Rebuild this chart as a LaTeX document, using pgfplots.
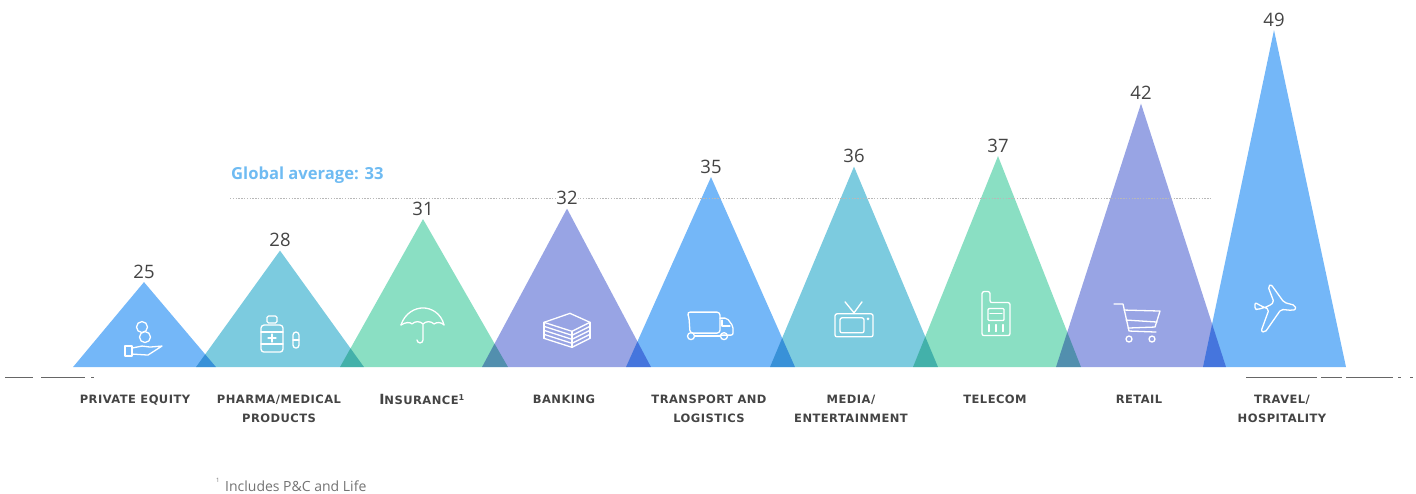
\documentclass[border=0pt]{standalone}
\usepackage{pgfplots}
\pgfplotsset{compat=1.18}
\usepackage{fontspec}
\setmainfont{Open Sans}
\newfontfamily\catfont[LetterSpace=4]{DejaVu Sans}
\definecolor{triblue}{HTML}{74B7F8}
\definecolor{triteal}{HTML}{7CCBDF}
\definecolor{trigreen}{HTML}{8ADFC3}
\definecolor{triviolet}{HTML}{98A4E4}
\definecolor{avgblue}{HTML}{6FBBF2}
\definecolor{ink}{HTML}{444444}
\tikzset{icon/.style={white,line width=1.3pt,line join=round,line cap=round,x=1pt,y=1pt}}
\begin{document}
\begin{tikzpicture}
\begin{axis}[
  scale only axis, width=1416pt, height=493pt,
  xmin=0, xmax=1416, ymin=4.905, ymax=51.857,
  axis line style={draw=none}, major tick length=0pt,
  ytick=\empty,
  xtick={135,279,422,564,709,851,995,1139,1282},
  xticklabels={{PRIVATE EQUITY},{PHARMA/MEDICAL\\PRODUCTS},{{\fontsize{14}{14}\selectfont I}NSURANCE\textsuperscript{1}},{BANKING},{TRANSPORT AND\\LOGISTICS},{MEDIA/\\ENTERTAINMENT},{TELECOM},{RETAIL},{TRAVEL/\\HOSPITALITY}},
  xticklabel style={anchor=north, yshift=102pt, align=center, text=ink,
    font=\catfont\bfseries\fontsize{11.5}{19.5}\selectfont},
  clip=false,
]
% Triangles: left foot, apex at the stated value, right foot
\addplot[fill=triblue,  draw=none, blend mode=multiply] coordinates {(73,16.905)(144,25)(216,16.905)} -- cycle;
\addplot[fill=triteal,  draw=none, blend mode=multiply] coordinates {(196,16.905)(280,28)(364,16.905)} -- cycle;
\addplot[fill=trigreen, draw=none, blend mode=multiply] coordinates {(340,16.905)(423,31)(508,16.905)} -- cycle;
\addplot[fill=triviolet,draw=none, blend mode=multiply] coordinates {(482,16.905)(567,32)(651,16.905)} -- cycle;
\addplot[fill=triblue,  draw=none, blend mode=multiply] coordinates {(626,16.905)(711,35)(795,16.905)} -- cycle;
\addplot[fill=triteal,  draw=none, blend mode=multiply] coordinates {(770,16.905)(854,36)(938,16.905)} -- cycle;
\addplot[fill=trigreen, draw=none, blend mode=multiply] coordinates {(913,16.905)(998,37)(1081,16.905)} -- cycle;
\addplot[fill=triviolet,draw=none, blend mode=multiply] coordinates {(1056,16.905)(1141,42)(1226,16.905)} -- cycle;
\addplot[fill=triblue,  draw=none, blend mode=multiply] coordinates {(1203,16.905)(1274,49)(1346,16.905)} -- cycle;

% Global average
\addplot[draw=black!28, line width=1pt, dash pattern=on 1.4pt off 1.4pt] coordinates {(230,33)(1212,33)};
\node[anchor=south west, inner sep=0pt, text=avgblue, font=\bfseries\fontsize{16.6}{18}\selectfont, yshift=14pt] at (axis cs:231,33) {Global average: 33};

% Value labels above the apexes
\addplot[draw=none, mark=none, point meta=y,
  nodes near coords={\pgfmathprintnumber[assume math mode=true]{\pgfplotspointmeta}},
  every node near coord/.style={anchor=south, text=ink, fill=white, inner sep=0.5pt,
    yshift=3pt, font=\fontsize{18.5}{19}\selectfont}]
  coordinates {(144,25)(280,28)(423,31)(567,32)(711,35)(854,36)(998,37)(1141,42)(1274,49)};

% Broken rule under the baseline
\draw[black!60,line width=1.2pt] (axis cs:5,15.95)--(axis cs:33,15.95) (axis cs:41,15.95)--(axis cs:85,15.95) (axis cs:91,15.95)--(axis cs:94,15.95);
\draw[black!60,line width=1.2pt] (axis cs:1246,15.95)--(axis cs:1317,15.95) (axis cs:1321,15.95)--(axis cs:1342,15.95) (axis cs:1346,15.95)--(axis cs:1393,15.95) (axis cs:1398,15.95)--(axis cs:1401,15.95) (axis cs:1410,15.95)--(axis cs:1413,15.95);

% Footnote
\node[anchor=west, inner sep=0pt, text=black!55, font=\fontsize{14}{15}\selectfont] at (axis cs:225,5.56) {Includes P\&C and Life};
\node[anchor=west, inner sep=0pt, text=black!55, font=\fontsize{6}{7}\selectfont] at (axis cs:216,6.1) {1};

% Coins over an open hand
\begin{scope}[shift={(axis cs:144,19.67)},icon]
  \draw (-2,11) circle[radius=5.5pt]; \draw (1,1) circle[radius=5.5pt];
  \draw (-19,-8) rectangle (-12,-18);
  \draw (-12,-10) -- (-2,-8) -- (6,-9) -- (18,-8) -- (4,-17) -- (-12,-16);
\end{scope}
% Medicine bottle and capsule
\begin{scope}[shift={(axis cs:280,20.05)},icon]
  \draw[rounded corners=1.5] (-13,18) rectangle (-3,11);
  \draw[rounded corners=3] (-19,9) rectangle (3,-18);
  \draw (-19,2) -- (3,2) (-19,-10) -- (3,-10);
  \draw (-12,-4) -- (-4,-4) (-8,-8) -- (-8,0);
  \draw[rounded corners=3] (13,2) rectangle (19,-14);
  \draw (13,-6) -- (19,-6);
\end{scope}
% Umbrella
\begin{scope}[shift={(axis cs:423,21.3)},icon]
  \draw (-22,-4) .. controls (-18,8) and (-8,13) .. (0,13) .. controls (8,13) and (18,8) .. (21,-4);
  \draw (-22,-4) .. controls (-17,-1) and (-13,-1) .. (-11,-3) .. controls (-8,0) and (-3,0) .. (0,-3) .. controls (3,0) and (8,0) .. (11,-3) .. controls (14,-1) and (18,-1) .. (21,-4);
  \draw (0,-3) -- (0,-19) arc[start angle=0,end angle=-180,radius=3pt];
\end{scope}
% Stack of banknotes
\begin{scope}[shift={(axis cs:567,20.5)},icon]
  \draw (-23,-9) -- (5,-18) -- (23,-9);
  \draw (-23,-5) -- (5,-14) -- (23,-5);
  \draw (-23,-1) -- (5,-10) -- (23,-1);
  \draw (-23,3) -- (5,-6) -- (23,3);
  \draw (-23,7) -- (5,-2) -- (23,7);
  \draw (-23,7) -- (3,16) -- (23,7);
  \draw (-23,-9) -- (-23,7) (23,-9) -- (23,7) (5,-18) -- (5,-2);
\end{scope}
% Delivery truck
\begin{scope}[shift={(axis cs:710,20.9)},icon]
  \draw[rounded corners=3] (-23,13) -- (10,13) -- (10,-8) -- (-20,-8) -- (-21,8) -- cycle;
  \draw[rounded corners=2] (10,7) -- (17,7) -- (23,-1) -- (23,-10) -- (10,-10);
  \draw (-19,-11) circle[radius=3.5pt]; \draw (14,-11) circle[radius=3.5pt];
  \draw (-15,-11) -- (10,-11);
  \draw (12,5) -- (12,-1) -- (20,-1);
\end{scope}
% Television
\begin{scope}[shift={(axis cs:854,21.5)},icon]
  \draw[rounded corners=2] (-19,5) rectangle (19,-18);
  \draw[rounded corners=2] (-14,1) rectangle (10,-14);
  \draw (-9,17) -- (0,6) -- (8,17);
  \fill[white] (14,0) circle[radius=1.5pt];
\end{scope}
% Mobile phone
\begin{scope}[shift={(axis cs:996,22)},icon]
  \draw[rounded corners=2] (-14,11) -- (-14,-22) -- (14,-22) -- (14,11) -- (-6,11) -- (-6,22) -- (-14,22) -- cycle;
  \draw[rounded corners=1] (-8,5) rectangle (8,-7);
  \draw (-6,0) -- (6,0);
  \draw (-7,-11) -- (-7,-18) (0,-11) -- (0,-18) (7,-11) -- (7,-18);
\end{scope}
% Shopping cart
\begin{scope}[shift={(axis cs:1137,21.1)},icon]
  \draw (-23,19) -- (-14,19) -- (-8,-8) -- (19,-9);
  \draw (-13,13) -- (23,12) -- (18,-4) -- (-9,-5);
  \draw (-11,3) -- (20,1);
  \draw (-8,-16) circle[radius=3pt]; \draw (15,-16) circle[radius=3pt];
\end{scope}
% Airplane
\begin{scope}[shift={(axis cs:1275,22.4)},icon]
  \draw[rounded corners=2] (-7,23) -- (-4,25) -- (9,7) -- (20,4) -- (21,0) -- (17,-1) -- (6,0) -- (-10,-23) -- (-14,-22) -- (-6,0) -- (-15,4) -- (-20,7) -- (-20,0) -- (-17,0) -- (-7,3) -- (-1,7) -- cycle;
\end{scope}
\end{axis}
\end{tikzpicture}
\end{document}
